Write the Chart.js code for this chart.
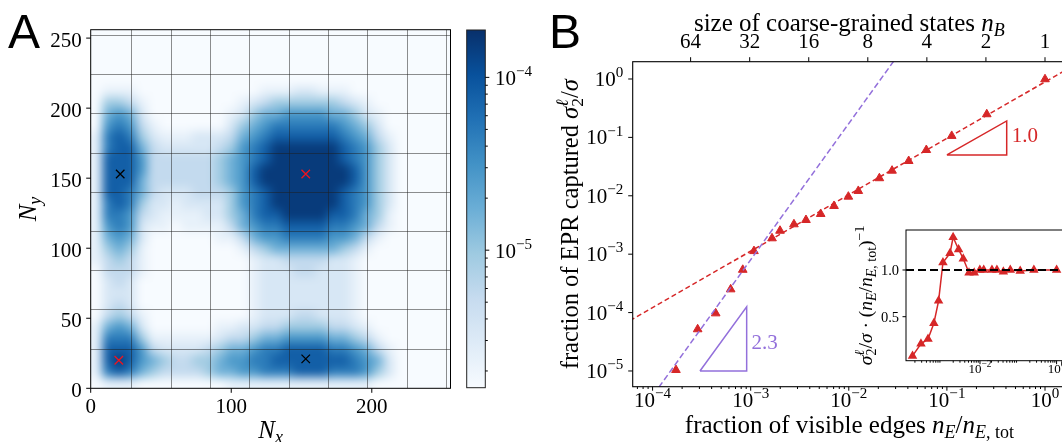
<!DOCTYPE html>
<html><head><meta charset="utf-8">
<script src="https://cdn.jsdelivr.net/npm/chart.js@4/dist/chart.umd.min.js"></script>
<style>
html,body{margin:0;padding:0;background:#fff;}
#wrap{position:relative;width:1062px;height:442px;overflow:hidden;background:#fff;}
canvas{position:absolute;top:0;}
</style></head><body><div id="wrap">
<canvas id="cA" width="460" height="442" style="left:0px"></canvas>
<canvas id="cBar" width="81" height="442" style="left:455px"></canvas>
<canvas id="cB" width="600" height="442" style="left:536px"></canvas>
<canvas id="cIn" width="281" height="227" style="left:855px;top:215px"></canvas>
</div>
<script>
// ================= DATA =================
// Panel A: density map as levels 0..9, rows from top (Ny=252) to bottom (Ny=4), 8-unit cells
const HEAT_X_RANGE = [0, 256];
const HEAT_Y_RANGE = [0, 256];
const CB_RANGE = [1.6e-6, 1.88e-4];
// position of each level on the (log) colour scale, 0 = bottom, 1 = top
const LEVEL_FRACTION = [0, 0.08, 0.16, 0.26, 0.37, 0.49, 0.6, 0.71, 0.82, 0.96];
const HEAT_LEVELS = [
"00000000000000000000000000000000",
"00000000000000000000000000000000",
"00000000000000000000000000000000",
"00000000000000000000000000000000",
"00000000000000000000000000000000",
"01110000000000011122111000000000",
"04431000000001234444443210000000",
"05652000000012455666655421000000",
"06763100000024567777776542000000",
"17874211122235678888887653100000",
"17885322222346789999998764200000",
"18886333333456789999998764200000",
"18886333333456899999999864200000",
"18885333333456899999999864200000",
"18875322233346789999998764200000",
"17874221222246789999998764200000",
"17763211112245788999988754100000",
"16762110111135677888877653100000",
"15652000000113566777766531000000",
"14541000000001345555554310000000",
"13431000000000122333322100000000",
"03331000000000122233222100000000",
"02320000000000122222222100000000",
"02220000000000122222222100000000",
"02320000000000122222222100000000",
"03431000000000122233222100000000",
"15652000000112233444433210000000",
"17774111111233455666655431000000",
"18886322223455677888877653100000",
"18986543344566778888888765200000",
"17875433334556677788877764200000",
"01110000000011111111111110000000"
];
const GRID_X = [28.8, 56.8, 84.8, 112.8, 140.8, 168.8, 196.8, 224.8, 252.7];
const GRID_Y = [28.4, 56.4, 84.4, 112.4, 140.4, 168.3, 196.3, 224.3, 252.5];
const A_X_TICKS = [0, 100, 200];
const A_Y_TICKS = [0, 50, 100, 150, 200, 250];
const MARK_BLACK_X = [21, 153];
const MARK_BLACK_Y = [153, 21];
const MARK_RED_X = [20, 153];
const MARK_RED_Y = [20, 153];
const CB_MAJOR_EXP = [-5, -4];

// Panel B
const FRAC_EDGES = [1.73e-4, 2.88e-4, 4.4e-4, 6.25e-4, 8.3e-4, 1.08e-3, 1.65e-3, 1.99e-3, 2.76e-3, 3.66e-3, 5.17e-3, 7.07e-3, 9.9e-3, 1.25e-2, 2.05e-2, 2.76e-2, 4.08e-2, 6.17e-2, 0.112, 0.255, 1.0];
const FRAC_EPR   = [1.04e-5, 5.18e-5, 9.7e-5, 2.5e-4, 5.4e-4, 1.13e-3, 1.87e-3, 2.52e-3, 3.25e-3, 3.85e-3, 4.88e-3, 6.69e-3, 9.66e-3, 1.21e-2, 2.0e-2, 2.69e-2, 3.94e-2, 6.08e-2, 0.106, 0.249, 0.99];
const RATIO      = [0.08, 0.21, 0.26, 0.43, 0.67, 1.08, 1.18, 1.35, 1.22, 1.12, 0.97, 0.97, 1.0, 1.0, 1.0, 1.0, 0.98, 1.0, 0.99, 1.0, 1.0];
const FIT_RED_X = [5e-5, 2.5];
const FIT_RED_Y = [6.24e-5, 2.16];
const FIT_PURPLE_X = [8e-5, 0.05];
const FIT_PURPLE_Y = [2.22e-6, 7.38];
const SLOPE_RED_X = [0.1, 0.407, 0.407, 0.1];
const SLOPE_RED_Y = [0.05, 0.05, 0.191, 0.05];
const SLOPE_PUR_X = [3.04e-4, 9.1e-4, 9.1e-4, 3.04e-4];
const SLOPE_PUR_Y = [1e-5, 1e-5, 1.26e-4, 1e-5];
const SLOPE_LABELS = [{t:'1.0', x:0.458, y:0.0844, c:'#d62728'}, {t:'2.3', x:1.02e-3, y:2.35e-5, c:'#9370db'}];
const B_X_EXP = [-4, -3, -2, -1, 0];
const B_Y_EXP = [-5, -4, -3, -2, -1, 0];
const NB_TICKS = [64, 32, 16, 8, 4, 2, 1];
const B_X_RANGE = [6.27e-5, 1.637];
const B_Y_RANGE = [5.38e-6, 1.977];
const IN_X_RANGE = [1.17e-4, 2.24];
const IN_Y_RANGE = [0.029, 1.428];
const IN_Y_TICKS = [0.5, 1.0];
const IN_X_EXP = [-2, 0];
const IN_REF = 1.0;

// ================= HELPERS =================
const SERIF = '"Liberation Serif", "DejaVu Serif", serif';
const SANS = '"Liberation Sans", Arial, sans-serif';
const RED = '#d62728', PURPLE = '#9370db';
const BLUES = [[247,251,255],[222,235,247],[198,219,239],[158,202,225],[107,174,214],[66,146,198],[33,113,181],[8,81,156],[8,48,107]];
function blues(f){ f=Math.max(0,Math.min(1,f)); const p=f*8; const i=Math.min(7,Math.floor(p)); const t=p-i; const a=BLUES[i], b=BLUES[i+1]; return [0,1,2].map(k=>Math.round(a[k]+(b[k]-a[k])*t)); }
function layoutRich(ctx, parts, size, family){
  let x=0, prevStart=0; const items=[];
  for (const [t,f] of parts){
    const it=f.includes('i'), sub=f.includes('b'), sup=f.includes('p'), ov=f.includes('o');
    const s=(sub||sup)? size*0.72 : size;
    const font=(it?'italic ':'')+s.toFixed(1)+'px '+family;
    ctx.font=font; const w=ctx.measureText(t).width;
    const x0= ov? prevStart : x;
    const dy= sub? size*0.2 : sup? -size*0.42 : 0;
    items.push({t,font,x:x0,dy});
    if (ov) x=Math.max(x,x0+w); else { prevStart=x0; x=x0+w; }
  }
  return {items,width:x};
}
function drawRich(ctx, parts, x, y, size, family, align, rot, color){
  ctx.save(); ctx.translate(x,y); if (rot) ctx.rotate(rot);
  const L=layoutRich(ctx,parts,size,family);
  const off= align==='center'? -L.width/2 : align==='right'? -L.width : 0;
  ctx.fillStyle=color||'#000'; ctx.textBaseline='alphabetic'; ctx.textAlign='left';
  for (const it of L.items){ ctx.font=it.font; ctx.fillText(it.t, off+it.x, it.dy); }
  ctx.restore();
}
function expStr(e){ return e<0 ? '\u2212'+(-e) : String(e); }
function pow10Label(e){ return [['10',''],[expStr(e),'p']]; }
function seg(ctx,x1,y1,x2,y2){ ctx.beginPath(); ctx.moveTo(x1,y1); ctx.lineTo(x2,y2); ctx.stroke(); }
function zip(xs,ys){ return xs.map((v,i)=>({x:v,y:ys[i]})); }
const baseOpts = { responsive:false, animation:false, devicePixelRatio:1, events:[],
  plugins:{legend:{display:false}, tooltip:{enabled:false}} };

// ================= PANEL A =================
const heatPlugin = { id:'heat', beforeDatasetsDraw(chart){
  const {ctx, chartArea:ca, scales:{x,y}} = chart;
  const nR=HEAT_LEVELS.length, nC=HEAT_LEVELS[0].length;
  // image with a one-cell replicated border so smoothing/blur at the frame stays clean
  const off=document.createElement('canvas'); off.width=nC+2; off.height=nR+2;
  const octx=off.getContext('2d'); const img=octx.createImageData(nC+2,nR+2);
  for (let r=0;r<nR+2;r++) for (let c=0;c<nC+2;c++){
    const rr=Math.min(nR-1,Math.max(0,r-1)), cc=Math.min(nC-1,Math.max(0,c-1));
    const d=+HEAT_LEVELS[rr][cc]||0; const col=blues(LEVEL_FRACTION[d]); const k=(r*(nC+2)+c)*4;
    img.data[k]=col[0]; img.data[k+1]=col[1]; img.data[k+2]=col[2]; img.data[k+3]=255;
  }
  octx.putImageData(img,0,0);
  const x0=x.getPixelForValue(HEAT_X_RANGE[0]), x1=x.getPixelForValue(HEAT_X_RANGE[1]);
  const y0=y.getPixelForValue(HEAT_Y_RANGE[1]), y1=y.getPixelForValue(HEAT_Y_RANGE[0]);
  const cw=(x1-x0)/nC, chh=(y1-y0)/nR;
  ctx.save(); ctx.beginPath(); ctx.rect(ca.left,ca.top,ca.width,ca.height); ctx.clip();
  ctx.imageSmoothingEnabled=true;
  ctx.filter='blur(3px)';
  ctx.drawImage(off,x0-cw,y0-chh,(nC+2)*cw,(nR+2)*chh);
  ctx.filter='none';
  ctx.strokeStyle='rgba(30,30,30,0.5)'; ctx.lineWidth=1;
  for (const g of GRID_X){ const p=Math.round(x.getPixelForValue(g))+0.5; seg(ctx,p,ca.top,p,ca.bottom); }
  for (const g of GRID_Y){ const p=Math.round(y.getPixelForValue(g))+0.5; seg(ctx,ca.left,p,ca.right,p); }
  ctx.restore();
}, afterDraw(chart){
  const {ctx, chartArea:ca, scales:{x,y}} = chart;
  ctx.save(); ctx.strokeStyle='#000'; ctx.lineWidth=1;
  ctx.strokeRect(ca.left,ca.top,ca.width,ca.height);
  ctx.fillStyle='#000'; ctx.font='21px '+SERIF;
  for (const v of A_X_TICKS){ const p=x.getPixelForValue(v); seg(ctx,p,ca.bottom,p,ca.bottom+4.5);
    ctx.textAlign='center'; ctx.fillText(String(v),p,ca.bottom+24.5); }
  for (const v of A_Y_TICKS){ const p=y.getPixelForValue(v); seg(ctx,ca.left-4.5,p,ca.left,p);
    ctx.textAlign='right'; ctx.fillText(String(v),ca.left-9,p+8.5); }
  drawRich(ctx,[['N','i'],['x','ib']],(ca.left+ca.right)/2,438,25,SERIF,'center');
  drawRich(ctx,[['N','i'],['y','ib']],36,(ca.top+ca.bottom)/2,25,SERIF,'center',-Math.PI/2);
  ctx.font='48px '+SANS; ctx.textAlign='left'; ctx.fillText('A',8,48);
  ctx.restore();
}};
new Chart(document.getElementById('cA'), {
  type:'scatter',
  data:{datasets:[
    {data:zip(MARK_BLACK_X,MARK_BLACK_Y), pointStyle:'crossRot', pointRadius:6, borderColor:'#000', backgroundColor:'#000', borderWidth:1.3},
    {data:zip(MARK_RED_X,MARK_RED_Y), pointStyle:'crossRot', pointRadius:6, borderColor:'#f0141e', backgroundColor:'#f0141e', borderWidth:1.3}
  ]},
  options:Object.assign({}, baseOpts, {
    layout:{padding:{left:90.7, top:29.7, right:9.5, bottom:53.7}},
    scales:{x:{type:'linear',min:HEAT_X_RANGE[0],max:HEAT_X_RANGE[1],display:false},
            y:{type:'linear',min:HEAT_Y_RANGE[0],max:HEAT_Y_RANGE[1],display:false}}
  }),
  plugins:[heatPlugin]
});

// ================= COLORBAR =================
const cbPlugin = { id:'cb', afterDraw(chart){
  const {ctx, chartArea:ca, scales:{y}} = chart;
  ctx.save(); ctx.strokeStyle='#222'; ctx.lineWidth=1;
  ctx.strokeRect(ca.left,ca.top,ca.width,ca.height);
  ctx.strokeStyle='#000';
  for (let e=-7;e<=-3;e++) for (let k=1;k<=9;k++){
    const v=k*Math.pow(10,e); if (v<y.min||v>y.max) continue;
    const p=y.getPixelForValue(v); seg(ctx,ca.right,p,ca.right+(k===1?4:2.5),p);
  }
  for (const e of CB_MAJOR_EXP){ const p=y.getPixelForValue(Math.pow(10,e));
    drawRich(ctx,pow10Label(e),ca.right+9.7,p+7.7,21,SERIF,'left'); }
  ctx.restore();
}};
new Chart(document.getElementById('cBar'), {
  type:'bar',
  data:{labels:['c'], datasets:[{data:[[CB_RANGE[0],CB_RANGE[1]]], borderWidth:0, barPercentage:1, categoryPercentage:1,
    backgroundColor:(c)=>{ const ch=c.chart, ca=ch.chartArea; if(!ca) return '#6baed6';
      const g=ch.ctx.createLinearGradient(0,ca.bottom,0,ca.top);
      BLUES.forEach((col,i)=>g.addColorStop(i/8,'rgb('+col.join(',')+')')); return g; }}]},
  options:Object.assign({}, baseOpts, {
    layout:{padding:{left:11.7, top:30, right:50.7, bottom:54.3}},
    scales:{x:{display:false}, y:{type:'logarithmic',min:CB_RANGE[0],max:CB_RANGE[1],display:false}}
  }),
  plugins:[cbPlugin]
});

// ================= PANEL B =================
const bPlugin = { id:'bax', afterDatasetsDraw(chart){
  const {ctx, scales:{x,y}} = chart;
  for (const L of SLOPE_LABELS){ ctx.save(); ctx.font='21px '+SERIF; ctx.fillStyle=L.c; ctx.textAlign='left';
    ctx.fillText(L.t, x.getPixelForValue(L.x), y.getPixelForValue(L.y)); ctx.restore(); }
}, afterDraw(chart){
  const {ctx, chartArea:ca, scales:{x,y}} = chart;
  ctx.save(); ctx.strokeStyle='#000'; ctx.lineWidth=1.1;
  ctx.strokeRect(ca.left,ca.top,ca.width,ca.height);
  ctx.lineWidth=1;
  for (const e of B_X_EXP){ const p=x.getPixelForValue(Math.pow(10,e)); seg(ctx,p,ca.bottom,p,ca.bottom+4);
    drawRich(ctx,pow10Label(e),p,ca.bottom+20,21,SERIF,'center'); }
  for (let e=-5;e<=0;e++) for (let k=2;k<=9;k++){ const v=k*Math.pow(10,e); if (v<x.min||v>x.max) continue;
    const p=x.getPixelForValue(v); seg(ctx,p,ca.bottom,p,ca.bottom+2.3); }
  for (const e of B_Y_EXP){ const p=y.getPixelForValue(Math.pow(10,e)); seg(ctx,ca.left-4.5,p,ca.left,p);
    drawRich(ctx,pow10Label(e),ca.left-9.5,p+7,21,SERIF,'right'); }
  for (const n of NB_TICKS){ const p=x.getPixelForValue(1/(n*n)); seg(ctx,p,ca.top-4.5,p,ca.top);
    ctx.font='21px '+SERIF; ctx.fillStyle='#000'; ctx.textAlign='center'; ctx.fillText(String(n),p,ca.top-13.4); }
  const cx=(ca.left+ca.right)/2;
  drawRich(ctx,[['size of coarse-grained states ',''],['n','i'],['B','ib']],cx,30.7,25,SERIF,'center');
  drawRich(ctx,[['fraction of visible edges ',''],['n','i'],['E','ib'],['/',''],['n','i'],['E','ib'],[', tot','b']],cx,433.3,25,SERIF,'center');
  drawRich(ctx,[['fraction of EPR captured ',''],['\u03c3','i'],['2','b'],['\u2113','ipo'],['/',''],['\u03c3','i']],42,(ca.top+ca.bottom)/2,24.5,SERIF,'center',-Math.PI/2);
  ctx.fillStyle='#000'; ctx.font='48px '+SANS; ctx.textAlign='left'; ctx.fillText('B',13,48);
  ctx.restore();
}};
new Chart(document.getElementById('cB'), {
  type:'scatter',
  data:{datasets:[
    {data:zip(FIT_PURPLE_X,FIT_PURPLE_Y), showLine:true, borderColor:PURPLE, borderWidth:1.5, borderDash:[6,3], pointRadius:0},
    {data:zip(FIT_RED_X,FIT_RED_Y), showLine:true, borderColor:RED, borderWidth:1.5, borderDash:[5,3], pointRadius:0},
    {data:zip(SLOPE_RED_X,SLOPE_RED_Y), showLine:true, borderColor:RED, borderWidth:1.5, pointRadius:0},
    {data:zip(SLOPE_PUR_X,SLOPE_PUR_Y), showLine:true, borderColor:PURPLE, borderWidth:1.5, pointRadius:0},
    {data:zip(FRAC_EDGES,FRAC_EPR), showLine:false, pointStyle:'triangle', pointRadius:5, backgroundColor:RED, borderColor:RED, borderWidth:1}
  ]},
  options:Object.assign({}, baseOpts, {
    layout:{padding:{left:96.7, top:61.7, right:70, bottom:55.3}},
    scales:{x:{type:'logarithmic',min:B_X_RANGE[0],max:B_X_RANGE[1],display:false},
            y:{type:'logarithmic',min:B_Y_RANGE[0],max:B_Y_RANGE[1],display:false}}
  }),
  plugins:[bPlugin]
});

// ================= INSET =================
const inPlugin = { id:'inax', beforeDatasetsDraw(chart){
  const {ctx, chartArea:ca} = chart; ctx.save(); ctx.fillStyle='#fff'; ctx.fillRect(ca.left,ca.top,ca.width,ca.height); ctx.restore();
}, afterDraw(chart){
  const {ctx, chartArea:ca, scales:{x,y}} = chart;
  ctx.save(); ctx.strokeStyle='#000'; ctx.lineWidth=1;
  ctx.strokeRect(ca.left,ca.top,ca.width,ca.height);
  ctx.fillStyle='#000';
  for (const v of IN_Y_TICKS){ const p=y.getPixelForValue(v); seg(ctx,ca.left-3.5,p,ca.left,p);
    ctx.font='14.5px '+SERIF; ctx.textAlign='right'; ctx.fillText(v.toFixed(1),ca.left-7,p+5); }
  for (const e of IN_X_EXP){ const p=x.getPixelForValue(Math.pow(10,e)); seg(ctx,p,ca.bottom,p,ca.bottom+3.5);
    drawRich(ctx,pow10Label(e),p,ca.bottom+12,13,SERIF,'center'); }
  for (let e=-4;e<=0;e++) for (let k=2;k<=9;k++){ const v=k*Math.pow(10,e); if (v<x.min||v>x.max) continue;
    const p=x.getPixelForValue(v); seg(ctx,p,ca.bottom,p,ca.bottom+2); }
  drawRich(ctx,[['\u03c3','i'],['2','b'],['\u2113','ipo'],['/',''],['\u03c3','i'],[' \u00b7 (',''],['n','i'],['E','ib'],['/',''],['n','i'],['E','ib'],[', tot','b'],[')',''],['\u22121','p']],
    17,(ca.top+ca.bottom)/2,19.5,SERIF,'center',-Math.PI/2);
  ctx.restore();
}};
new Chart(document.getElementById('cIn'), {
  type:'scatter',
  data:{datasets:[
    {data:[{x:IN_X_RANGE[0],y:IN_REF},{x:IN_X_RANGE[1],y:IN_REF}], showLine:true, borderColor:'#000', borderWidth:2, borderDash:[8,4], pointRadius:0},
    {data:zip(FRAC_EDGES,RATIO), showLine:true, borderColor:RED, borderWidth:1.5, pointStyle:'triangle', pointRadius:4, backgroundColor:RED, pointBorderColor:RED}
  ]},
  options:Object.assign({}, baseOpts, {
    layout:{padding:{left:51, top:15, right:66, bottom:81.3}},
    scales:{x:{type:'logarithmic',min:IN_X_RANGE[0],max:IN_X_RANGE[1],display:false},
            y:{type:'linear',min:IN_Y_RANGE[0],max:IN_Y_RANGE[1],display:false}}
  }),
  plugins:[inPlugin]
});
</script></body></html>
